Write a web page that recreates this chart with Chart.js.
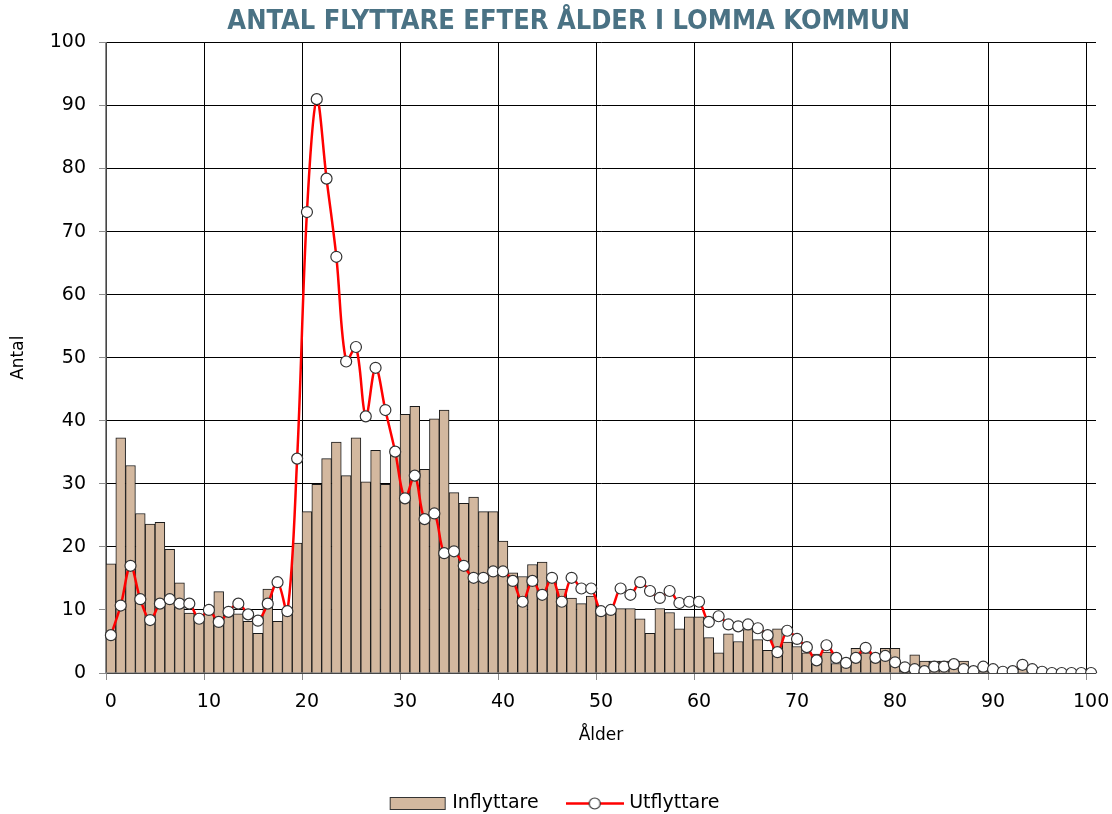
<!DOCTYPE html>
<html lang="sv">
<head>
<meta charset="utf-8">
<title>Antal flyttare efter ålder i Lomma kommun</title>
<script src="https://cdn.jsdelivr.net/npm/chart.js@4.4.1/dist/chart.umd.min.js"></script>
<style>
  html, body { margin: 0; padding: 0; background: #fff; }
  #wrap { width: 1112px; height: 814px; }
</style>
</head>
<body>
<div id="wrap"><canvas id="flyttChart"></canvas></div>
<script>
// ålder 0-100
const ages = [
  0, 1, 2, 3, 4, 5, 6, 7, 8, 9,
  10, 11, 12, 13, 14, 15, 16, 17, 18, 19,
  20, 21, 22, 23, 24, 25, 26, 27, 28, 29,
  30, 31, 32, 33, 34, 35, 36, 37, 38, 39,
  40, 41, 42, 43, 44, 45, 46, 47, 48, 49,
  50, 51, 52, 53, 54, 55, 56, 57, 58, 59,
  60, 61, 62, 63, 64, 65, 66, 67, 68, 69,
  70, 71, 72, 73, 74, 75, 76, 77, 78, 79,
  80, 81, 82, 83, 84, 85, 86, 87, 88, 89,
  90, 91, 92, 93, 94, 95, 96, 97, 98, 99,
  100
];

const inflyttare = [
  17.3, 37.3, 32.9, 25.3, 23.6, 23.9, 19.6, 14.3, 9.5, 9.3,
  10.6, 12.9, 9.8, 9.4, 8.2, 6.3, 13.3, 8.2, 9.8, 20.6,
  25.6, 29.9, 34.0, 36.6, 31.3, 37.3, 30.3, 35.3, 29.9, 35.0,
  41.0, 42.3, 32.3, 40.3, 41.7, 28.6, 26.9, 27.9, 25.6, 25.6,
  20.9, 15.9, 15.3, 17.2, 17.6, 14.7, 13.3, 11.9, 11.0, 12.2,
  9.6, 9.5, 10.2, 10.2, 8.6, 6.3, 10.2, 9.6, 7.0, 8.9,
  8.9, 5.6, 3.2, 6.2, 5.0, 6.9, 5.3, 3.6, 7.0, 4.9,
  4.2, 3.2, 3.0, 3.3, 1.5, 1.3, 3.9, 3.2, 3.0, 3.9,
  3.9, 1.0, 2.9, 1.9, 1.9, 1.9, 1.9, 1.9, 0.3, 0.3,
  0, 0, 0, 0.6, 0, 0, 0, 0, 0, 0,
  0
];

const utflyttare = [
  6.0, 10.7, 17.0, 11.7, 8.4, 11.0, 11.7, 11.0, 11.0, 8.6,
  10.0, 8.1, 9.7, 11.0, 9.3, 8.3, 11.0, 14.4, 9.8, 34.0,
  73.1, 91.0, 78.4, 66.0, 49.4, 51.7, 40.7, 48.4, 41.7, 35.1,
  27.7, 31.3, 24.4, 25.3, 19.0, 19.3, 17.0, 15.1, 15.1, 16.1,
  16.1, 14.6, 11.3, 14.6, 12.4, 15.1, 11.3, 15.1, 13.4, 13.4,
  9.8, 10.0, 13.4, 12.4, 14.4, 13.0, 11.9, 13.0, 11.1, 11.3,
  11.3, 8.1, 9.0, 7.7, 7.4, 7.7, 7.1, 6.0, 3.3, 6.7,
  5.4, 4.1, 2.0, 4.4, 2.4, 1.6, 2.4, 4.0, 2.4, 2.7,
  1.7, 0.9, 0.6, 0.3, 1.0, 1.0, 1.4, 0.6, 0.3, 1.0,
  0.6, 0.2, 0.3, 1.3, 0.6, 0.2, 0, 0, 0, 0,
  0
];

const xTickLabels = ["0", "10", "20", "30", "40", "50", "60", "70", "80", "90", "100"];
const yTicks = [0, 10, 20, 30, 40, 50, 60, 70, 80, 90, 100];

const BAR_FILL = "#d3b89f";
const LINE_RED = "#ff0000";
const AXIS_GREY = "#8c8c8c";
const TEXT_FONT = "'DejaVu Sans', Verdana, sans-serif";

// small pictures for the legend (wide box and line with a ring)
function legendBox() {
  const c = document.createElement("canvas");
  c.width = 58; c.height = 15;
  const g = c.getContext("2d");
  g.fillStyle = BAR_FILL;
  g.fillRect(1, 1, 56, 13);
  g.strokeStyle = "#333";
  g.lineWidth = 1;
  g.strokeRect(1.5, 1.5, 55, 12);
  return c;
}
function legendLine() {
  const c = document.createElement("canvas");
  c.width = 58; c.height = 15;
  const g = c.getContext("2d");
  g.strokeStyle = LINE_RED;
  g.lineWidth = 2.5;
  g.beginPath(); g.moveTo(0, 7.5); g.lineTo(58, 7.5); g.stroke();
  g.fillStyle = "#fff";
  g.strokeStyle = "#333";
  g.lineWidth = 1.2;
  g.beginPath(); g.arc(29, 7.5, 5.5, 0, Math.PI * 2); g.fill(); g.stroke();
  return c;
}

const isTenth = (ctx) => ctx.index % 10 === 0;

new Chart(document.getElementById("flyttChart"), {
  type: "bar",
  data: {
    labels: ages,
    datasets: [
      {
        type: "bar",
        label: "Inflyttare",
        data: inflyttare,
        backgroundColor: BAR_FILL,
        borderColor: "#1a1a1a",
        borderWidth: 1,
        barPercentage: 1,
        categoryPercentage: 1,
        order: 2
      },
      {
        type: "line",
        label: "Utflyttare",
        data: utflyttare,
        borderColor: LINE_RED,
        borderWidth: 2.5,
        tension: 0.35,
        pointRadius: 5.5,
        pointBackgroundColor: "#fff",
        pointBorderColor: "#333",
        pointBorderWidth: 1.2,
        order: 1
      }
    ]
  },
  options: {
    responsive: true,
    maintainAspectRatio: false,
    animation: false,
    layout: { padding: { left: 16, right: 16, top: 0, bottom: -9 } },
    scales: {
      x: {
        type: "category",
        offset: true,
        afterFit: (scale) => {
          scale.height = 90;
          scale.paddingLeft = 0;
          scale.paddingRight = 0;
        },
        grid: {
          offset: true,
          color: (ctx) => isTenth(ctx) ? "#000" : "transparent",
          tickColor: (ctx) => isTenth(ctx) ? AXIS_GREY : "transparent",
          tickLength: 7,
          lineWidth: 1
        },
        border: { color: AXIS_GREY, width: 1.5 },
        ticks: {
          autoSkip: false,
          maxRotation: 0,
          padding: 11,
          color: "#000",
          font: { family: TEXT_FONT, size: 19 },
          callback: function (value) {
            const lab = String(this.getLabelForValue(value));
            return xTickLabels.includes(lab) ? lab : "";
          }
        },
        title: {
          display: true,
          text: "Ålder",
          color: "#000",
          font: { family: TEXT_FONT, size: 17 },
          padding: { top: 0, bottom: 17 }
        }
      },
      y: {
        min: 0,
        max: 100,
        afterFit: (scale) => { scale.width = 90; },
        afterBuildTicks: (scale) => { scale.ticks = yTicks.map(v => ({ value: v })); },
        grid: { color: "#000", tickColor: AXIS_GREY, tickLength: 7, lineWidth: 1 },
        border: { color: AXIS_GREY, width: 1.5 },
        ticks: {
          padding: 13,
          color: "#000",
          font: { family: TEXT_FONT, size: 19 }
        },
        title: {
          display: true,
          text: "Antal",
          color: "#000",
          font: { family: TEXT_FONT, size: 17 },
          padding: { top: -8, bottom: 0 }
        }
      }
    },
    plugins: {
      title: {
        display: true,
        text: "   ANTAL FLYTTARE EFTER ÅLDER I LOMMA KOMMUN",
        color: "#4a7284",
        font: { family: "'Liberation Sans Narrow', 'DejaVu Sans Condensed', 'Arial Narrow', sans-serif", size: 27, weight: "bold" },
        padding: { top: 6, bottom: 4 }
      },
      legend: {
        position: "bottom",
        labels: {
          usePointStyle: true,
          pointStyleWidth: 50,
          padding: 31,
          color: "#000",
          font: { family: TEXT_FONT, size: 19 },
          generateLabels: (chart) => [
            { text: "Inflyttare", pointStyle: legendBox(), datasetIndex: 0, hidden: false, lineWidth: 0, fontColor: "#000" },
            { text: "Utflyttare", pointStyle: legendLine(), datasetIndex: 1, hidden: false, lineWidth: 0, fontColor: "#000" }
          ]
        }
      },
      tooltip: { enabled: false }
    }
  }
});
</script>
</body>
</html>
